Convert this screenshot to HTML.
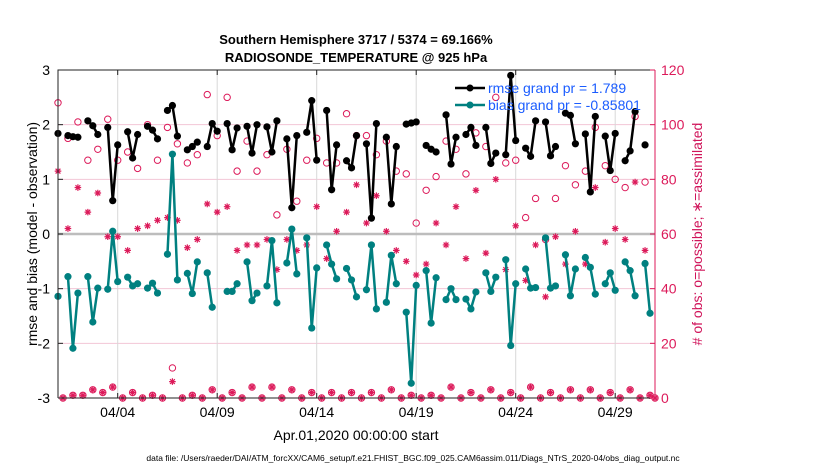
<!DOCTYPE html>
<html><head><meta charset="utf-8">
<style>
body{margin:0;background:#fff;}
svg{display:block;font-family:"Liberation Sans",sans-serif;}
</style></head>
<body>
<svg id="chart" width="830" height="470">
<text x="356" y="44" text-anchor="middle" font-size="13" font-weight="bold">Southern Hemisphere 3717 / 5374 = 69.166%</text>
<text x="356" y="62" text-anchor="middle" font-size="13" font-weight="bold">RADIOSONDE_TEMPERATURE @ 925 hPa</text>
<g id="grid"></g>
<g id="marks"></g>
<g id="axes"></g>
<text transform="translate(37,234) rotate(-90)" text-anchor="middle" font-size="14">rmse and bias (model - observation)</text>
<text transform="translate(702,234) rotate(-90)" text-anchor="middle" font-size="14" fill="#d0145a"># of obs: o=possible; ∗=assimilated</text>
<text x="356" y="440" text-anchor="middle" font-size="14">Apr.01,2020 00:00:00 start</text>
<text x="413" y="461" text-anchor="middle" font-size="8.5">data file: /Users/raeder/DAI/ATM_forcXX/CAM6_setup/f.e21.FHIST_BGC.f09_025.CAM6assim.011/Diags_NTrS_2020-04/obs_diag_output.nc</text>
<g>
<line x1="455" y1="88" x2="485" y2="88" stroke="#000" stroke-width="2.5"/>
<circle cx="470" cy="88" r="3.5" fill="#000"/>
<line x1="455" y1="105" x2="485" y2="105" stroke="#008080" stroke-width="2.5"/>
<circle cx="470" cy="105" r="3.5" fill="#008080"/>
<text x="488" y="93" font-size="14" fill="#1a5cff">rmse grand pr = 1.789</text>
<text x="488" y="110" font-size="14" fill="#1a5cff">bias grand pr = -0.85801</text>
</g>
</svg>
<script>
const rmse=[1.84,null,1.80,1.78,1.77,null,2.07,1.98,1.82,null,1.95,0.61,1.63,null,1.87,1.39,1.82,null,1.97,1.9,1.74,null,2.26,2.35,1.79,null,1.54,1.6,1.68,null,1.60,2.02,1.88,null,2.02,1.54,1.94,null,1.97,1.48,2.0,null,1.96,1.50,2.07,null,1.74,0.48,1.80,null,1.86,2.44,1.35,null,2.26,0.81,1.63,null,1.34,1.21,1.80,null,1.65,0.29,2.02,null,1.77,0.55,1.60,null,2.01,2.03,2.05,null,1.62,1.55,1.50,null,2.18,1.28,1.77,null,1.82,1.95,1.62,null,1.95,1.29,1.48,null,1.45,2.90,1.71,null,1.57,1.42,2.07,null,2.05,1.43,1.60,null,2.21,2.17,1.65,null,1.83,0.77,2.15,null,1.79,1.16,1.84,null,1.34,1.52,2.24,null,1.63,null,null];
const bias=[-1.14,null,-0.78,-2.09,-1.08,null,-0.78,-1.61,-0.99,null,-1.01,0.05,-0.87,null,-0.79,-0.95,-0.91,null,-0.99,-0.90,-1.08,null,-0.37,1.46,-0.84,null,-0.72,-1.09,-0.51,null,-0.71,-1.34,null,null,-1.05,-1.05,-0.91,null,-0.51,-1.22,-1.08,null,-0.95,-0.12,-1.26,null,-0.53,0.09,-0.73,null,-0.07,-1.72,-0.62,null,-0.20,-0.55,-0.82,null,-0.63,-0.84,-1.15,null,-1.02,-0.20,-1.37,null,-1.25,-0.39,-0.91,null,-1.43,-2.73,-0.94,null,-0.67,-1.63,-0.80,null,-1.20,-1.00,-1.20,null,-1.19,-1.37,-1.06,null,-0.71,-1.05,-0.79,null,-0.47,-2.04,-0.91,null,-0.64,-0.99,-0.98,null,-0.07,-0.99,-0.95,null,-0.38,-1.13,-0.64,null,-0.43,-0.61,-1.10,null,-0.91,-0.71,-1.03,null,-0.51,-0.67,-1.13,null,-0.54,-1.45,null];
const possible=[108,0,95,1,101,1,87,3,91,2,102,4,87,0,90,2,84,0,100,1,87,0,99,11,93,0,86,1,89,0,111,3,96,0,110,2,83,0,94,4,83,0,89,4,67,0,91,3,72,0,87,2,95,0,86,2,86,0,104,2,96,0,96,2,89,0,94,3,83,0,82,1,64,0,76,1,81,0,94,4,91,0,82,2,97,0,92,3,110,0,86,2,87,0,66,4,73,0,58,2,73,0,85,3,78,0,83,3,99,0,85,2,80,0,77,3,103,0,79,1,0];
const assimilated=[83,0,62,1,77,1,68,3,75,2,59,4,59,0,54,2,62,0,63,1,65,0,66,6,65,0,55,1,58,0,71,3,68,0,70,2,54,0,56,4,56,0,58,4,47,0,58,3,54,0,56,2,70,0,51,2,61,0,68,2,78,0,64,2,74,0,61,3,54,0,50,1,45,0,49,1,64,0,56,4,70,0,51,2,76,0,53,3,80,0,47,2,63,0,43,4,56,0,37,2,59,0,49,3,61,0,49,3,77,0,57,2,62,0,58,3,79,0,54,1,0];
const leftTicks=[3,2,1,0,-1,-2,-3];
const rightTicks=[0,20,40,60,80,100,120];
const dateTicks=[3,8,13,18,23,28];
const dateLabels=["04/04","04/09","04/14","04/19","04/24","04/29"];

const L=58,R=655,T=70,B=398,NS="http://www.w3.org/2000/svg";
const xs=i=>L+i*(R-L)/120;
const xd=d=>L+d*(R-L)/30;
const yl=v=>B-(v+3)*(B-T)/6;
const yr=v=>B-v*(B-T)/120;
function mk(tag,attrs,parent){const e=document.createElementNS(NS,tag);for(const k in attrs)e.setAttribute(k,attrs[k]);parent.appendChild(e);return e;}
const grid=document.getElementById('grid'),marks=document.getElementById('marks'),axes=document.getElementById('axes');

rightTicks.forEach(v=>{if(v===0||v===120||v===60)return;
 const g=mk('line',{x1:L,x2:R,y1:yr(v),y2:yr(v),stroke:'#f3c6d6','stroke-width':1},grid);
 
 });
dateTicks.forEach(d=>{
 const g=mk('line',{x1:xd(d),x2:xd(d),y1:T,y2:B,stroke:'#d8d8d8','stroke-width':1},grid);
 
 });
const z=mk('line',{x1:L,x2:R,y1:yl(0),y2:yl(0),stroke:'#bdbdbd','stroke-width':2.5},grid);



function drawLine(arr,color,name){
 let d='',pen=false;
 arr.forEach((v,i)=>{if(v===null){pen=false;return;}d+=(pen?'L':'M')+xs(i)+' '+yl(v)+' ';pen=true;});
 const p=mk('path',{d:d,fill:'none',stroke:color,'stroke-width':2.5,'stroke-linejoin':'round'},marks);
 
 
 arr.forEach((v,i)=>{if(v===null)return;
  const c=mk('circle',{cx:xs(i),cy:yl(v),r:3.6,fill:color},marks);
  
  });
}
const mag='#dc1a5a';
possible.forEach((v,i)=>{if(v===null)return;
 const c=mk('circle',{cx:xs(i),cy:yr(v),r:3.2,fill:'none',stroke:mag,'stroke-width':1},marks);
 
 });
assimilated.forEach((v,i)=>{if(v===null)return;
 const x=xs(i),y=yr(v),s=3.3,t=2.4;
 const a=mk('path',{d:`M${x-s} ${y}H${x+s}M${x} ${y-s}V${y+s}M${x-t} ${y-t}L${x+t} ${y+t}M${x-t} ${y+t}L${x+t} ${y-t}`,stroke:mag,'stroke-width':1.2},marks);
 
 });
drawLine(rmse,'#000','rmse');
drawLine(bias,'#008080','bias');

const box=mk('path',{d:`M${L} ${B}V${T}H${R}`,fill:'none',stroke:'#222','stroke-width':1},axes);


const bx=mk('line',{x1:L,x2:R,y1:B,y2:B,stroke:'#222','stroke-width':1},axes);


const ra=mk('line',{x1:R,x2:R,y1:T,y2:B,stroke:mag,'stroke-width':1},axes);


leftTicks.forEach(v=>{
 mk('line',{x1:L,x2:L+5,y1:yl(v),y2:yl(v),stroke:'#222'},axes);
 const t=mk('text',{x:L-8,y:yl(v)+5,'text-anchor':'end','font-size':14},axes);
 t.textContent=v;
 
 });
rightTicks.forEach(v=>{
 mk('line',{x1:R-5,x2:R,y1:yr(v),y2:yr(v),stroke:mag},axes);
 const t=mk('text',{x:R+6,y:yr(v)+5,'font-size':14,fill:mag},axes);
 t.textContent=v;
 
 });
dateTicks.forEach((d,k)=>{
 mk('line',{x1:xd(d),x2:xd(d),y1:B,y2:B-5,stroke:'#222'},axes);
 mk('line',{x1:xd(d),x2:xd(d),y1:T,y2:T+5,stroke:'#222'},axes);
 const t=mk('text',{x:xd(d),y:B+19,'text-anchor':'middle','font-size':14},axes);
 t.textContent=dateLabels[k];
 
 });
</script>
</body></html>
